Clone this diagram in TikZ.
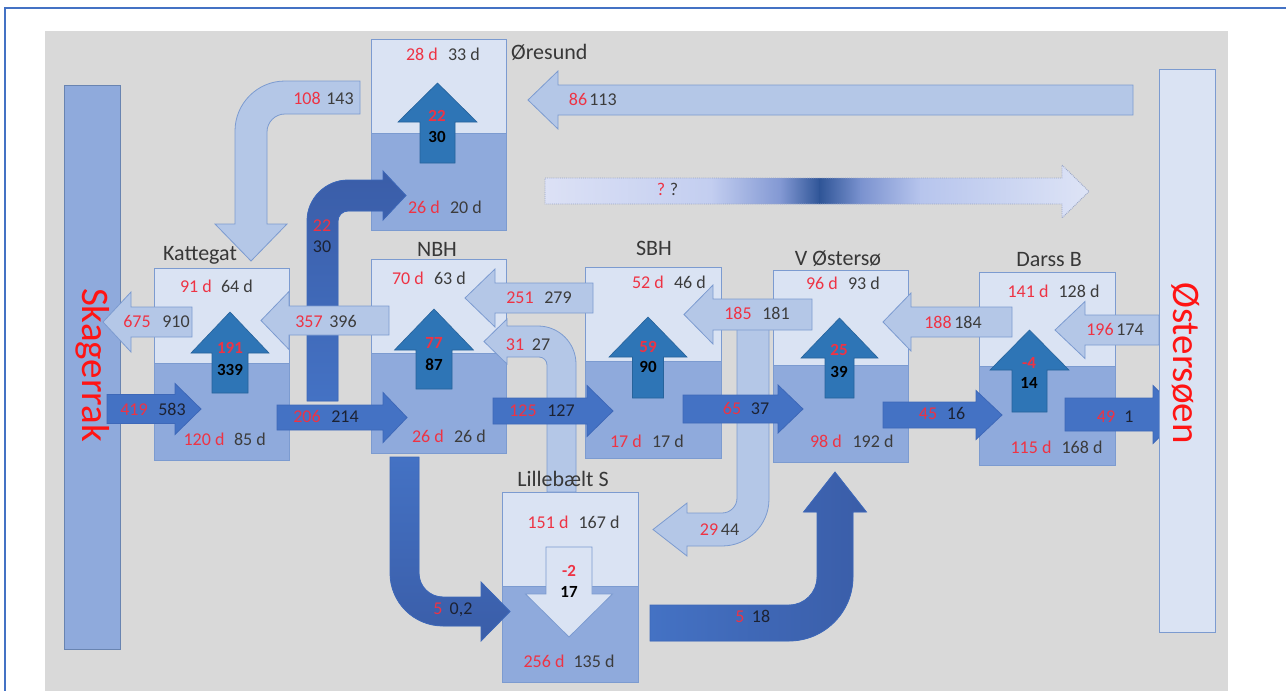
\documentclass[tikz,border=0pt]{standalone}
\usepackage{fontspec}
\setmainfont{Carlito}

\definecolor{boxlight}{HTML}{DAE3F3}
\definecolor{boxdark}{HTML}{8FAADC}
\definecolor{boxline}{HTML}{7C9BD0}
\definecolor{flowlight}{HTML}{B4C7E7}
\definecolor{flowmid}{HTML}{4472C4}
\definecolor{flowmidline}{HTML}{3E68B8}
\definecolor{bentdeep}{HTML}{3A5DA8}
\definecolor{updark}{HTML}{2E75B6}
\definecolor{bggray}{HTML}{D9D9D9}
\definecolor{framecol}{HTML}{4472C4}
\definecolor{numred}{HTML}{EE3344}
\definecolor{numgray}{HTML}{3C3C3C}
\definecolor{numdark}{HTML}{1C2233}
\definecolor{labcol}{HTML}{383838}
\definecolor{titlered}{HTML}{FF1414}
\definecolor{qa}{HTML}{DCE1F5}
\definecolor{qb}{HTML}{C3CEF0}
\definecolor{qc}{HTML}{8298D3}
\definecolor{qd}{HTML}{2F5597}
\definecolor{qe}{HTML}{7A92CF}
\definecolor{qf}{HTML}{B7C5ED}
\definecolor{qg}{HTML}{DEE4F6}
\definecolor{qedge}{HTML}{9AA6C6}

% horizontal block arrow: style, tail x, tip x, centre y, shaft half, head half, head base x
\newcommand\harrow[7][]{%
  \path[#1] (#2,{#4-#5}) -- (#7,{#4-#5}) -- (#7,{#4-#6}) -- (#3,#4)
    -- (#7,{#4+#6}) -- (#7,{#4+#5}) -- (#2,{#4+#5}) -- cycle;}
% vertical block arrow: style, tail y, tip y, centre x, shaft half, head half, head base y
\newcommand\varrow[7][]{%
  \path[#1] ({#4-#5},#2) -- ({#4-#5},#7) -- ({#4-#6},#7) -- (#4,#3)
    -- ({#4+#6},#7) -- ({#4+#5},#7) -- ({#4+#5},#2) -- cycle;}
% two-layer basin: name, x1, x2, top, layer boundary, bottom
\newcommand\basin[6]{%
  \fill[boxlight] (#2,#4) rectangle (#3,#5);
  \fill[boxdark] (#2,#5) rectangle (#3,#6);
  \draw[boxline, line width=0.9pt] (#2,#5) -- (#3,#5);
  \draw[boxline, line width=0.9pt] (#2,#4) rectangle (#3,#6);
  \coordinate (#1) at ({(#2+#3)/2},#4);}

\begin{document}
\begin{tikzpicture}[x=1pt, y=-1pt,
  lightflow/.style={fill=flowlight, draw=boxline, line width=0.8pt},
  midflow/.style={fill=flowmid, draw=flowmidline, line width=0.8pt},
  upflow/.style={fill=updark, draw=updark!85!black, line width=0.6pt},
  downflow/.style={fill=boxlight, draw=boxline, line width=0.8pt},
  valbase/.style={inner sep=0pt, text height=11.4pt, text depth=0pt,
    font=\fontsize{18}{20}\selectfont},
  rv/.style={valbase, text=numred},
  kv/.style={valbase, text=numgray},
  dv/.style={valbase, text=numdark},
  rvb/.style={valbase, text=numred, font=\fontsize{17}{19}\selectfont\bfseries},
  kvb/.style={valbase, text=black, font=\fontsize{17}{19}\selectfont\bfseries},
  lab/.style={inner sep=0pt, text height=14.2pt, text depth=0pt, text=labcol,
    font=\fontsize{22}{24}\selectfont},
  sea/.style={inner sep=0pt, text=titlered, rotate=-90,
    font=\fontsize{39}{42}\selectfont}]

\path[use as bounding box] (0,0) rectangle (1286,691);
\clip (0,0) rectangle (1286,691);
\fill[white] (0,0) rectangle (1286,691);
\draw[framecol, line width=2pt] (5,8) rectangle (1300,720);
\fill[bggray] (45,31) rectangle (1228,700);

% open sea at the western end
\draw[fill=boxdark, draw=boxline!85!black, line width=0.9pt] (64,85) rectangle (120,649);

% basins
\basin{kat}{154}{289}{268}{363}{460}
\basin{ore}{371}{506}{39}{133}{230}
\basin{nbh}{371}{506}{259}{353}{453}
\basin{sbh}{585}{721}{267}{361}{458}
\basin{vos}{773}{908}{270}{365}{462}
\basin{dar}{979}{1115}{272}{366}{465}
\basin{lil}{502}{638}{492}{586}{682}

% bent flows
\path[lightflow] (360,81) -- (285,81) .. controls (257.4,81) and (235,103.4) .. (235,131)
  -- (235,224) -- (215,224) -- (251,261) -- (287,224) -- (267,224) -- (267,132)
  .. controls (267,122.1) and (275.1,114) .. (285,114) -- (360,114) -- cycle;
\path[midflow, bottom color=flowmid, top color=bentdeep] (307,401) -- (307,221)
  .. controls (307,198.4) and (325.4,180) .. (348,180) -- (383,180) -- (383,171)
  -- (406,195.5) -- (383,220) -- (383,211) -- (348,211)
  .. controls (342.5,211) and (338,215.5) .. (338,221) -- (338,401) -- cycle;
\path[lightflow] (576,492) -- (576,364) .. controls (576,343) and (559,326) .. (538,326)
  -- (507,326) -- (507,319) -- (484,341.5) -- (507,364) -- (507,357) -- (539,357)
  .. controls (543.4,357) and (547,360.6) .. (547,365) -- (547,492) -- cycle;
\path[lightflow] (737,315) -- (769,315) -- (769,499) .. controls (769,525) and (748,546) .. (722,546)
  -- (687,546) -- (687,556) -- (653,529.5) -- (687,503) -- (687,513) -- (722,513)
  .. controls (730.3,513) and (737,506.3) .. (737,498) -- cycle;
\path[midflow, top color=flowmid, bottom color=bentdeep] (390,457) -- (419,457) -- (419,573)
  .. controls (419,586.3) and (429.7,597) .. (443,597) -- (481,597) -- (481,582)
  -- (510,611.5) -- (481,641) -- (481,626) -- (443,626)
  .. controls (413.7,626) and (390,602.3) .. (390,573) -- cycle;
\path[midflow, left color=flowmid, right color=bentdeep] (650,605) -- (789,605)
  .. controls (804.5,605) and (817,592.5) .. (817,577) -- (817,512) -- (803.5,512)
  -- (835,472) -- (866.5,512) -- (853,512) -- (853,577)
  .. controls (853,612.3) and (824.3,641) .. (789,641) -- (650,641) -- cycle;

% vertical exchange inside the basins
\varrow[upflow]{393}{312}{230}{18}{39}{353}
\varrow[upflow]{163}{83}{437.5}{17.5}{39.5}{122}
\varrow[upflow]{389}{309}{434}{18}{39.5}{350}
\varrow[upflow]{398}{317}{648}{15.5}{39}{357}
\varrow[upflow]{398}{318}{839.5}{14.5}{38.5}{358}
\varrow[upflow]{412}{330}{1029.5}{17.5}{39.5}{370}

% surface outflows (westward)
\harrow[lightflow]{192}{103}{322}{15}{30}{131}
\harrow[lightflow]{389}{261}{320.5}{14.5}{29}{289}
\harrow[lightflow]{1133}{528}{100}{15}{29}{558}
\harrow[lightflow]{593}{465}{298}{15}{29}{495}
\harrow[lightflow]{812}{684}{314.5}{15.5}{29.5}{713}
\harrow[lightflow]{1012}{883}{322}{15}{29}{911}
\harrow[lightflow]{1159}{1055}{330}{15}{28.5}{1085}

% bottom inflows (eastward)
\harrow[midflow]{107}{201}{409}{14.5}{25.5}{175}
\harrow[midflow]{277}{407}{417.5}{12.5}{25}{383}
\harrow[midflow]{493}{613}{411}{13}{25.5}{587}
\harrow[midflow]{683}{803}{409}{14}{24}{778}
\harrow[midflow]{883}{1002}{415}{13}{24.5}{976}
\harrow[midflow]{1065}{1182}{414.5}{16.5}{29}{1153}

% unknown exchange, shaded
\begin{scope}
  \clip (545,178) -- (1062,178) -- (1062,165) -- (1089,191.5) -- (1062,218) -- (1062,204) -- (545,204) -- cycle;
  \shade[left color=qa, right color=qb] (544,160) rectangle (711,225);
  \shade[left color=qb, right color=qc] (710.5,160) rectangle (781,225);
  \shade[left color=qc, right color=qd] (780.5,160) rectangle (820,225);
  \shade[left color=qd, right color=qe] (819.5,160) rectangle (861,225);
  \shade[left color=qe, right color=qf] (860.5,160) rectangle (921,225);
  \shade[left color=qf, right color=qg] (920.5,160) rectangle (1090,225);
\end{scope}
\draw[qedge, densely dotted, line width=0.9pt] (545,178) -- (1062,178) -- (1062,165) -- (1089,191.5)
  -- (1062,218) -- (1062,204) -- (545,204) -- cycle;

% downward exchange in Lillebælt
\varrow[downflow]{547}{637}{569}{23}{43.5}{594}

% open sea at the eastern end
\draw[fill=boxlight, draw=boxline, line width=0.9pt] (1159,69) rectangle (1215,632);

% sea names
\node[sea] (skag) at (93,365) {Skagerrak};
\node[sea] (oster) at (1186,363) {Østersøen};

% basin names
\node[lab] (katname) at (200,253) {Kattegat};
\node[lab, anchor=west] (orename) at (511,52) {Øresund};
\node[lab] (nbhname) at (437,249) {NBH};
\node[lab] (sbhname) at (654,248) {SBH};
\node[lab] (vosname) at (838,258) {V Østersø};
\node[lab] (darname) at (1049,259) {Darss B};
\node[lab] (lilname) at (563,479) {Lillebælt S};

% Kattegat
\node[rv] (katTr) at (196,287) {91 d};
\node[kv] (katTk) at (237,287) {64 d};
\node[rv] (katBr) at (204,440) {120 d};
\node[kv] (katBk) at (250,440) {85 d};
\node[rvb] (katUr) at (230,348) {191};
\node[kvb] (katUk) at (230,370) {339};
\node[rv] (skOr) at (137,322) {675};
\node[kv] (skOk) at (176,322) {910};
\node[rv] (nkOr) at (309,322) {357};
\node[kv] (nkOk) at (343,322) {396};
\node[rv] (skIr) at (134,410) {419};
\node[dv] (skIk) at (172,410) {583};
\node[rv] (knIr) at (307,417) {206};
\node[dv] (knIk) at (345,417) {214};
\node[rv] (okr) at (307,99) {108};
\node[kv] (okk) at (340,99) {143};
\node[rv] (kor) at (322,226) {22};
\node[dv] (kok) at (322,247) {30};

% Øresund
\node[rv] (oreTr) at (422,55) {28 d};
\node[kv] (oreTk) at (464,55) {33 d};
\node[rv] (oreBr) at (424,208) {26 d};
\node[kv] (oreBk) at (466,208) {20 d};
\node[rvb] (oreUr) at (437,116) {22};
\node[kvb] (oreUk) at (437,137) {30};
\node[rv] (eor) at (578,100) {86};
\node[kv] (eok) at (603,100) {113};
\node[rv] (qr) at (661,190) {?};
\node[kv] (qk) at (674,190) {?};

% NBH
\node[rv] (nbhTr) at (408,279) {70 d};
\node[kv] (nbhTk) at (450,279) {63 d};
\node[rv] (nbhBr) at (428,437) {26 d};
\node[kv] (nbhBk) at (470,437) {26 d};
\node[rvb] (nbhUr) at (434,343) {77};
\node[kvb] (nbhUk) at (434,365) {87};
\node[rv] (snOr) at (520,298) {251};
\node[kv] (snOk) at (558,298) {279};
\node[rv] (lnr) at (515,345) {31};
\node[kv] (lnk) at (541,345) {27};
\node[rv] (nsIr) at (523,411) {125};
\node[dv] (nsIk) at (561,411) {127};

% SBH
\node[rv] (sbhTr) at (648,283) {52 d};
\node[kv] (sbhTk) at (690,283) {46 d};
\node[rv] (sbhBr) at (626,442) {17 d};
\node[kv] (sbhBk) at (668,442) {17 d};
\node[rvb] (sbhUr) at (648,347) {59};
\node[kvb] (sbhUk) at (648,367) {90};
\node[rv] (vsOr) at (738,314) {185};
\node[kv] (vsOk) at (776,314) {181};
\node[rv] (svIr) at (732,409) {65};
\node[dv] (svIk) at (760,409) {37};
\node[rv] (vlr) at (709,530) {29};
\node[kv] (vlk) at (730,530) {44};

% V Østersø
\node[rv] (vosTr) at (822,284) {96 d};
\node[kv] (vosTk) at (864,284) {93 d};
\node[rv] (vosBr) at (826,442) {98 d};
\node[kv] (vosBk) at (873,442) {192 d};
\node[rvb] (vosUr) at (839,350) {25};
\node[kvb] (vosUk) at (839,372) {39};
\node[rv] (dvOr) at (938,323) {188};
\node[kv] (dvOk) at (968,323) {184};
\node[rv] (vdIr) at (928,414) {45};
\node[dv] (vdIk) at (956,414) {16};

% Darss B
\node[rv] (darTr) at (1028,292) {141 d};
\node[kv] (darTk) at (1079,292) {128 d};
\node[rv] (darBr) at (1031,448) {115 d};
\node[kv] (darBk) at (1082,448) {168 d};
\node[rvb] (darUr) at (1029,363) {-4};
\node[kvb] (darUk) at (1029,383) {14};
\node[rv] (edOr) at (1100,330) {196};
\node[kv] (edOk) at (1130,330) {174};
\node[rv] (deIr) at (1106,417) {49};
\node[dv] (deIk) at (1129,417) {1};

% Lillebælt S
\node[rv] (lilTr) at (548,523) {151 d};
\node[kv] (lilTk) at (599,523) {167 d};
\node[rv] (lilBr) at (544,662) {256 d};
\node[kv] (lilBk) at (594,662) {135 d};
\node[rvb] (lilDr) at (569,571) {-2};
\node[kvb] (lilDk) at (569,592) {17};
\node[rv] (nlr) at (438,609) {5};
\node[dv] (nlk) at (461,609) {0,2};
\node[rv] (lvr) at (740,617) {5};
\node[dv] (lvk) at (761,617) {18};
\end{tikzpicture}
\end{document}
